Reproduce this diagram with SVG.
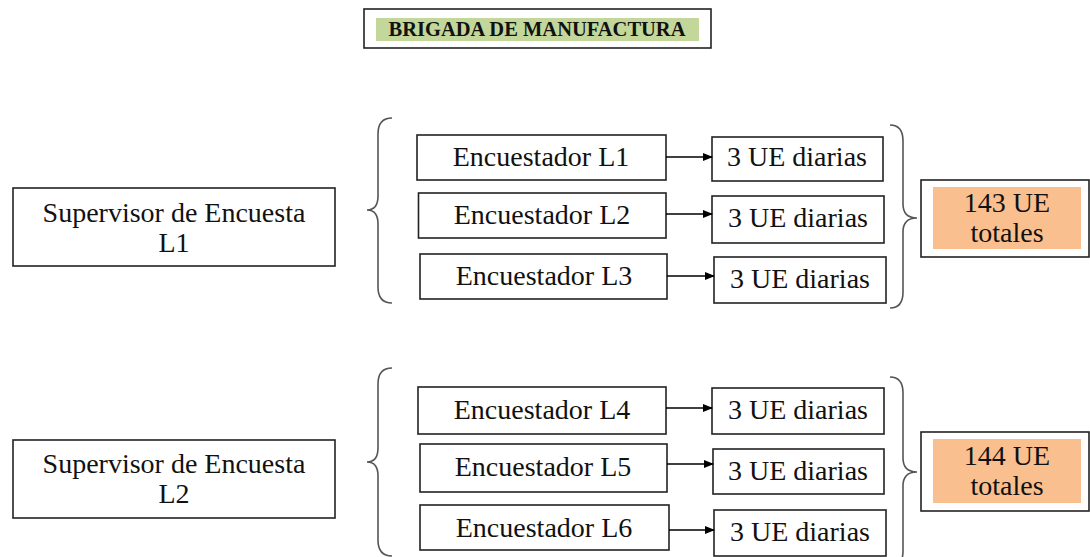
<svg xmlns="http://www.w3.org/2000/svg" width="1090" height="557" viewBox="0 0 1090 557">
<defs>
<marker id="ah" markerWidth="10" markerHeight="8" refX="9" refY="4" orient="auto" markerUnits="userSpaceOnUse">
<path d="M0,0 L10,4 L0,8 Z" fill="#000"/>
</marker>
<style>
.box{fill:#fff;stroke:#222;stroke-width:1.6}
.t{font-family:"Liberation Serif","Times New Roman",serif;font-size:28px;fill:#111;text-anchor:middle}
.title{font-family:"Liberation Serif","Times New Roman",serif;font-size:21px;font-weight:bold;fill:#111;text-anchor:middle}
.br{fill:none;stroke:#555;stroke-width:1.6}
.ar{stroke:#000;stroke-width:1.4;fill:none;marker-end:url(#ah)}
</style>
</defs>
<rect width="1090" height="557" fill="#fff"/>

<g id="title">
<rect x="364" y="9" width="347" height="39" class="box"/>
<rect x="376" y="18" width="323" height="23" fill="#c4d79b"/>
<text x="537" y="36" class="title" textLength="297" lengthAdjust="spacingAndGlyphs">BRIGADA DE MANUFACTURA</text>
</g>

<g id="sup1">
<rect x="13" y="188" width="322" height="78" class="box"/>
<text x="174" y="222" class="t">Supervisor de Encuesta</text>
<text x="174" y="252" class="t">L1</text>
</g>
<g id="sup2">
<rect x="13" y="440" width="322" height="78" class="box"/>
<text x="174" y="473" class="t">Supervisor de Encuesta</text>
<text x="174" y="503" class="t">L2</text>
</g>

<g id="enc1"><rect x="417" y="135" width="249" height="45" class="box"/><text x="541" y="166" class="t">Encuestador L1</text></g>
<g id="enc2"><rect x="418.5" y="193" width="247.5" height="45" class="box"/><text x="542" y="224" class="t">Encuestador L2</text></g>
<g id="enc3"><rect x="420" y="254" width="247" height="45" class="box"/><text x="544" y="285" class="t">Encuestador L3</text></g>
<g id="enc4"><rect x="418" y="387" width="248" height="47" class="box"/><text x="542" y="419" class="t">Encuestador L4</text></g>
<g id="enc5"><rect x="420" y="444" width="247" height="48" class="box"/><text x="543" y="476" class="t">Encuestador L5</text></g>
<g id="enc6"><rect x="420" y="505" width="249" height="45" class="box"/><text x="544" y="537" class="t">Encuestador L6</text></g>

<g id="ue1"><rect x="712" y="137" width="171" height="44" class="box"/><text x="797" y="166" class="t">3 UE diarias</text></g>
<g id="ue2"><rect x="712" y="196" width="172" height="47" class="box"/><text x="798" y="227" class="t">3 UE diarias</text></g>
<g id="ue3"><rect x="714" y="257" width="172" height="46" class="box"/><text x="800" y="288" class="t">3 UE diarias</text></g>
<g id="ue4"><rect x="712" y="388" width="172" height="46" class="box"/><text x="798" y="419" class="t">3 UE diarias</text></g>
<g id="ue5"><rect x="713" y="449" width="171" height="45" class="box"/><text x="798" y="480" class="t">3 UE diarias</text></g>
<g id="ue6"><rect x="714" y="510" width="172" height="46" class="box"/><text x="800" y="541" class="t">3 UE diarias</text></g>

<g id="tot1">
<rect x="921" y="180" width="168" height="77" class="box"/>
<rect x="933" y="187" width="148" height="62" fill="#f9bf8f"/>
<text x="1007" y="212" class="t">143 UE</text>
<text x="1007" y="242" class="t">totales</text>
</g>
<g id="tot2">
<rect x="921" y="432" width="168" height="79" class="box"/>
<rect x="933" y="439" width="148" height="64" fill="#f9bf8f"/>
<text x="1007" y="465" class="t">144 UE</text>
<text x="1007" y="495" class="t">totales</text>
</g>

<g id="connectors">
<line x1="666" y1="157" x2="712" y2="157" class="ar"/>
<line x1="666" y1="214" x2="712" y2="214" class="ar"/>
<line x1="667" y1="276" x2="714" y2="276" class="ar"/>
<line x1="666" y1="408" x2="712" y2="408" class="ar"/>
<line x1="667" y1="464" x2="713" y2="464" class="ar"/>
<line x1="669" y1="530" x2="714" y2="530" class="ar"/>
<path class="br" d="M392,118 Q378,118 378,134 L378,196 Q378,210 367,210 Q378,210 378,224 L378,287 Q378,303 392,303"/>
<path class="br" d="M890,125 Q903,125 903,141 L903,204 Q903,218 917,218 Q903,218 903,232 L903,292 Q903,308 890,308"/>
<path class="br" d="M392,368 Q378,368 378,384 L378,448 Q378,462 367,462 Q378,462 378,476 L378,540 Q378,556 392,556"/>
<path class="br" d="M890,377 Q903,377 903,393 L903,458 Q903,472 917,472 Q903,472 903,486 L903,551 Q903,567 890,567"/>
</g>
</svg>
